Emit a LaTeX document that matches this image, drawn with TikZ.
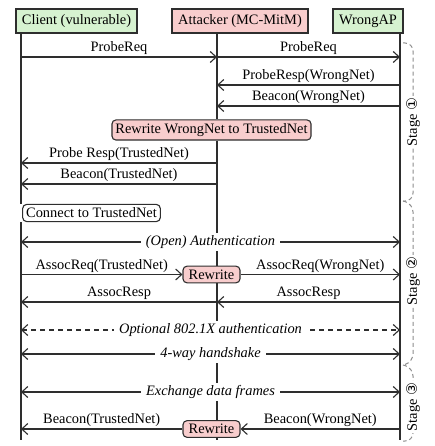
\documentclass[tikz,border=0pt]{standalone}
\usepackage{fontspec}
\setmainfont{Liberation Serif}
\newfontfamily\circfont{DejaVu Sans}
\usetikzlibrary{arrows.meta,positioning}
\definecolor{linegray}{HTML}{2E2E2E}
\definecolor{mintgreen}{HTML}{D6F2D0}
\definecolor{rosepink}{HTML}{F8CDCD}
\definecolor{stagegray}{HTML}{8C8C8C}
\tikzset{
  actor/.style={
    rectangle, draw=linegray, fill=#1, line width=1.1pt,
    minimum height=24pt, inner sep=3pt, font=\Large
  },
  actor/.default=mintgreen,
  lifeline/.style={draw=linegray, line width=1.1pt},
  msg/.style={
    -{Straight Barb[length=6pt,width=11pt]}, draw=linegray, line width=1.1pt
  },
  dmsg/.style={
    {Straight Barb[length=6pt,width=11pt]}-{Straight Barb[length=6pt,width=11pt]},
    draw=linegray, line width=1.1pt
  },
  msglabel/.style={above, inner sep=1.5pt, font=\Large},
  midlabel/.style={fill=white, inner xsep=5pt, inner ysep=2pt, font=\Large\itshape},
  actionbox/.style={
    rectangle, rounded corners=4pt, draw=linegray, fill=#1, line width=1.1pt,
    inner sep=3.5pt, font=\Large
  },
  actionbox/.default=rosepink,
  stagebrace/.style={
    draw=stagegray, dash pattern=on 4pt off 3pt, line width=1pt,
    rounded corners=8pt
  },
  stagelabel/.style={rotate=90, fill=white, inner sep=2pt, font=\Large},
}

\begin{document}
\begin{tikzpicture}[x=1pt, y=1pt]
  \useasboundingbox (0,0) rectangle (434,-446);

  % Lifeline anchors
  \coordinate (clTop) at (21,-33);
  \coordinate (atkTop) at (217,-33);
  \coordinate (apTop) at (400,-33);
  \coordinate (bottom) at (0,-440);

  % Actors
  \node[actor, minimum width=121pt] (client) at (76.5,-21) {Client (vulnerable)};
  \node[actor=rosepink, minimum width=136pt] (attacker) at (240,-21) {Attacker (MC-MitM)};
  \node[actor, minimum width=70pt] (wrongap) at (368,-21) {WrongAP};

  % Stage 1
  \coordinate (r1) at (0,-57);
  \draw[msg] (clTop |- r1) -- node[msglabel] {ProbeReq} (atkTop |- r1);
  \draw[msg] (atkTop |- r1) -- node[msglabel] {ProbeReq} (apTop |- r1);
  \coordinate (r2) at (0,-85);
  \draw[msg] (apTop |- r2) -- node[msglabel] {ProbeResp(WrongNet)} (atkTop |- r2);
  \coordinate (r3) at (0,-106);
  \draw[msg] (apTop |- r3) -- node[msglabel] {Beacon(WrongNet)} (atkTop |- r3);
  \node[actionbox] (rewrite1) at (211.5,-130) {Rewrite WrongNet to TrustedNet};
  \coordinate (r4) at (0,-163);
  \draw[msg] (atkTop |- r4) -- node[msglabel] {Probe Resp(TrustedNet)} (clTop |- r4);
  \coordinate (r5) at (0,-184);
  \draw[msg] (atkTop |- r5) -- node[msglabel] {Beacon(TrustedNet)} (clTop |- r5);
  \node[actionbox=white] (connect) at (91.5,-213) {Connect to TrustedNet};

  % Stage 2
  \coordinate (r6) at (0,-242);
  \draw[dmsg] (clTop |- r6) -- node[midlabel] (openauth) {(Open) Authentication} (apTop |- r6);
  \node[actionbox, minimum width=57pt] (rewrite2) at (211.5,-274.5) {Rewrite};
  \draw[msg] (clTop |- rewrite2) -- node[msglabel] {AssocReq(TrustedNet)} (rewrite2.west);
  \draw[msg] (rewrite2.east) -- node[msglabel] {AssocReq(WrongNet)} (apTop |- rewrite2);
  \coordinate (r7) at (0,-302);
  \draw[msg] (apTop |- r7) -- node[msglabel] {AssocResp} (atkTop |- r7);
  \draw[msg] (atkTop |- r7) -- node[msglabel] {AssocResp} (clTop |- r7);
  \coordinate (r8) at (0,-330);
  \draw[dmsg, dash pattern=on 5pt off 4pt] (clTop |- r8) -- node[midlabel] (dotx) {Optional 802.1X authentication} (apTop |- r8);
  \coordinate (r9) at (0,-354);
  \draw[dmsg] (clTop |- r9) -- node[midlabel] (handshake) {4-way handshake} (apTop |- r9);

  % Stage 3
  \coordinate (r10) at (0,-392);
  \draw[dmsg] (clTop |- r10) -- node[midlabel] (dataex) {Exchange data frames} (apTop |- r10);
  \node[actionbox, minimum width=57pt] (rewrite3) at (211.5,-429) {Rewrite};
  \draw[msg] (apTop |- rewrite3) -- node[msglabel] {Beacon(WrongNet)} (rewrite3.east);
  \draw[msg] (rewrite3.west) -- node[msglabel] {Beacon(TrustedNet)} (clTop |- rewrite3);

  % Lifelines, broken where boxes and labels sit on them
  \draw[lifeline] (client.south -| clTop) -- (clTop |- connect.north);
  \draw[lifeline] (clTop |- connect.south) -- (clTop |- bottom);
  \draw[lifeline] (attacker.south -| atkTop) -- (atkTop |- rewrite1.north);
  \draw[lifeline] (atkTop |- rewrite1.south) -- (atkTop |- openauth.north);
  \draw[lifeline] (atkTop |- openauth.south) -- (atkTop |- rewrite2.north);
  \draw[lifeline] (atkTop |- rewrite2.south) -- (atkTop |- dotx.north);
  \draw[lifeline] (atkTop |- handshake.south) -- (atkTop |- dataex.north);
  \draw[lifeline] (atkTop |- dataex.south) -- (atkTop |- rewrite3.north);
  \draw[lifeline] (atkTop |- rewrite3.south) -- (atkTop |- bottom);
  \draw[lifeline] (wrongap.south -| apTop) -- (apTop |- bottom);

  % Stage brackets
  \coordinate (s0) at (403,-43);
  \coordinate (s1) at (403,-201);
  \coordinate (s2) at (403,-365);
  \coordinate (s3) at (403,-441);
  \draw[stagebrace] (s0) -- ++(10,0) -- ++(0,-158) -- (s1);
  \draw[stagebrace] (s1) -- ++(10,-3) -- ++(0,-158) -- (s2);
  \draw[stagebrace] (s2) -- ++(10,-3) -- ++(0,-73) -- (s3);
  \node[stagelabel] (stage1) at (413,-122) {Stage {\circfont ①}};
  \node[stagelabel] (stage2) at (413,-281) {Stage {\circfont ②}};
  \node[stagelabel] (stage3) at (413,-407) {Stage {\circfont ③}};
\end{tikzpicture}
\end{document}
